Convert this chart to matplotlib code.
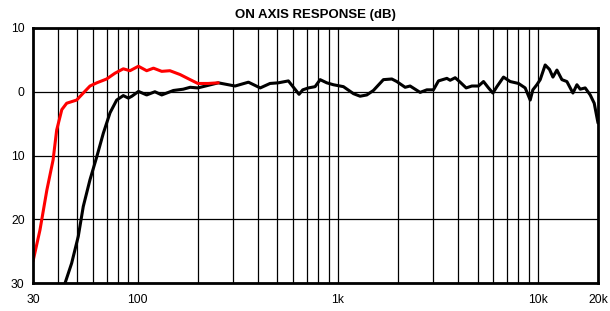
import matplotlib
matplotlib.use("Agg")
import matplotlib.pyplot as plt
from matplotlib.ticker import FixedLocator, FuncFormatter, NullLocator

plt.rcParams['font.family'] = ['Liberation Sans', 'DejaVu Sans']

red_freq = [30, 32.5, 35.2, 37.8, 39.4, 41.8, 44.2, 49.6, 53.5, 57.8, 62.5, 70, 77, 84.8,
            91.6, 100.9, 111, 120, 132, 145, 163, 183, 200, 225, 253]
red_db = [-26.6, -21.7, -15.4, -10.7, -6.0, -2.8, -1.8, -1.3, -0.2, 0.9, 1.4, 2.0, 2.9, 3.6,
          3.3, 4.0, 3.3, 3.7, 3.2, 3.3, 2.7, 1.9, 1.3, 1.3, 1.4]

blk_freq = [43.4, 46.8, 50.5, 53.5, 57.8, 62.5, 67.4, 72.8, 78.6, 84.8, 89.9, 93.6, 101,
            111, 122, 132, 151, 169, 183, 200, 253, 307, 358, 410, 459, 505, 567, 601,
            641, 669, 714, 771, 817, 882, 952, 1068, 1199, 1294, 1398, 1508, 1692, 1865,
            1974, 2173, 2301, 2582, 2790, 3010, 3189, 3513, 3648, 3865, 4094, 4387, 4683,
            5054, 5355, 5673, 5966, 6247, 6741, 7282, 8011, 8651, 9165, 9451, 9896, 10284,
            10890, 11448, 11904, 12466, 13200, 13980, 14985, 15690, 16300, 17260, 18286,
            19150, 20000]
blk_db = [-30.0, -26.9, -22.7, -18.0, -13.8, -10.2, -6.5, -3.3, -1.3, -0.6, -1.0, -0.7, 0.05,
          -0.5, 0.0, -0.5, 0.2, 0.4, 0.7, 0.6, 1.4, 0.9, 1.5, 0.6, 1.3, 1.4, 1.7, 0.7,
          -0.4, 0.3, 0.6, 0.8, 1.9, 1.4, 1.1, 0.8, -0.3, -0.7, -0.5, 0.2, 1.9, 2.0,
          1.6, 0.7, 0.9, -0.1, 0.3, 0.3, 1.7, 2.1, 1.8, 2.2, 1.5, 0.6, 0.9,
          0.9, 1.6, 0.6, -0.2, 0.8, 2.3, 1.6, 1.3, 0.6, -1.3, 0.3, 1.1, 1.9,
          4.2, 3.5, 2.3, 3.4, 1.9, 1.6, -0.2, 1.1, 0.4, 0.6, -0.5,
          -1.8, -4.9]

x_ticks = [30, 100, 1000, 10000, 20000]
x_labels = ['30', '100', '1k', '10k', '20k']
y_ticks = [10, 0, -10, -20, -30]
grid_freqs = [40, 50, 60, 70, 80, 90, 100, 200, 300, 400, 500, 600, 700, 800, 900,
              1000, 2000, 3000, 4000, 5000, 6000, 7000, 8000, 9000, 10000]

fig = plt.figure(figsize=(6.1, 3.11), dpi=100)
ax = fig.add_axes([33/610, 1 - 283/311, (598-33)/610, (283-28)/311])
ax.set_xscale('log')
ax.set_xlim(30, 20000)
ax.set_ylim(-30, 10)

for f in grid_freqs:
    ax.axvline(f, color='black', lw=0.9, zorder=1)
for y in y_ticks:
    ax.axhline(y, color='black', lw=0.9, zorder=1)

ax.plot(blk_freq, blk_db, color='black', lw=2.2, zorder=3,
        solid_joinstyle='round', solid_capstyle='round')
ax.plot(red_freq, red_db, color='#ff0000', lw=2.2, zorder=4,
        solid_joinstyle='round', solid_capstyle='round')

ax.xaxis.set_major_locator(FixedLocator(x_ticks))
ax.xaxis.set_minor_locator(NullLocator())
ax.set_xticklabels(x_labels)
ax.yaxis.set_major_locator(FixedLocator(y_ticks))
ax.yaxis.set_major_formatter(FuncFormatter(lambda v, p: f"{abs(int(round(v)))}"))
ax.tick_params(axis='x', length=0, labelsize=8.7, pad=8)
ax.tick_params(axis='y', length=0, labelsize=8.7, pad=6)
for s in ax.spines.values():
    s.set_linewidth(2.0)
    s.set_zorder(5)

ax.set_title('ON AXIS RESPONSE (dB)', fontsize=9.5, fontweight='bold', pad=7)

fig.savefig('out.png', dpi=100)
